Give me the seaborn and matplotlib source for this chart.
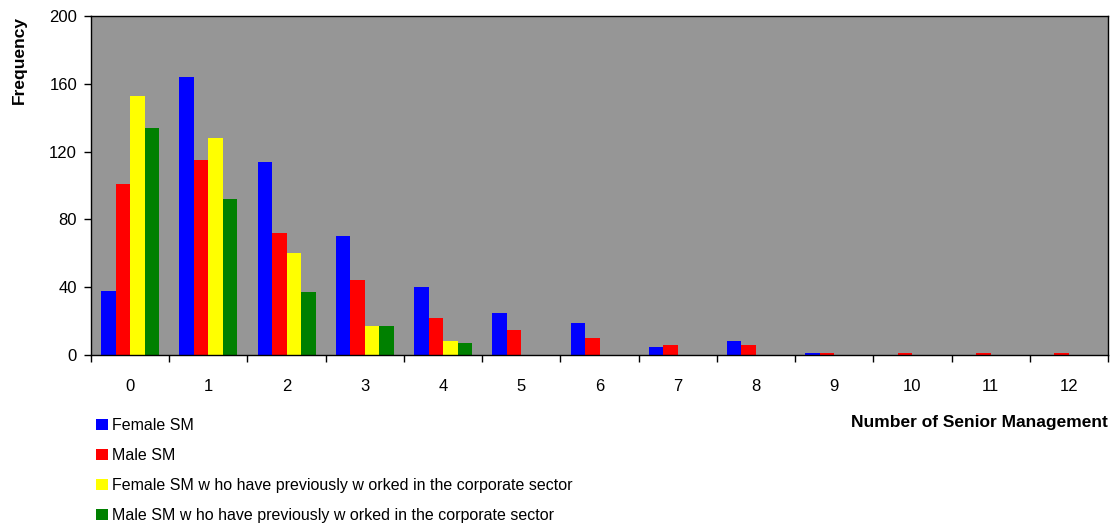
import pandas as pd
import seaborn as sns
import matplotlib.pyplot as plt
from matplotlib.ticker import FixedLocator

# number of senior management (categories)
n_sm = ["0", "1", "2", "3", "4", "5", "6", "7", "8", "9", "10", "11", "12"]

# frequencies
female_sm = [38, 164, 114, 70, 40, 25, 19, 5, 8, 1, 0, 0, 0]
male_sm = [101, 115, 72, 44, 22, 15, 10, 6, 6, 1, 1, 1, 1]
female_corp = [153, 128, 60, 17, 8, 0, 0, 0, 0, 0, 0, 0, 0]
male_corp = [134, 92, 37, 17, 7, 0, 0, 0, 0, 0, 0, 0, 0]

series_names = [
    "Female SM",
    "Male SM",
    "Female SM w ho have previously w orked in the corporate sector",
    "Male SM w ho have previously w orked in the corporate sector",
]
colors = ["#0000FF", "#FF0000", "#FFFF00", "#008000"]

rows = []
for name, vals in zip(series_names, [female_sm, male_sm, female_corp, male_corp]):
    for cat, v in zip(n_sm, vals):
        rows.append({"n": cat, "freq": v, "series": name})
df = pd.DataFrame(rows)

sns.set_style("white")
plt.rcParams["font.family"] = ["Liberation Sans", "DejaVu Sans"]

fig = plt.figure(figsize=(11.12, 5.25), dpi=100)
ax = fig.add_axes([91 / 1112, 1 - 355 / 525, 1017 / 1112, 339 / 525])

sns.barplot(data=df, x="n", y="freq", hue="series", order=n_sm,
            hue_order=series_names, palette=colors, saturation=1,
            width=0.74, dodge=True, ax=ax)
for p in ax.patches:
    p.set_edgecolor("none")

ax.set_facecolor("#969696")
ax.set_xlim(-0.5, 12.5)
ax.set_ylim(0, 200)
ax.set_yticks([0, 40, 80, 120, 160, 200])

# category labels between tick marks, ticks on category boundaries
ax.tick_params(axis="x", which="major", length=0, pad=17, labelsize=12,
               labelcolor="black")
ax.xaxis.set_minor_locator(FixedLocator([i - 0.5 for i in range(14)]))
ax.tick_params(axis="x", which="minor", length=5, width=1, direction="out",
               color="black", bottom=True)
ax.tick_params(axis="y", length=5, width=1, direction="out", color="black",
               left=True, pad=5, labelsize=12, labelcolor="black")

for s in ax.spines.values():
    s.set_color("black")
    s.set_linewidth(1)

ax.set_xlabel("")
ax.set_ylabel("Frequency", fontweight="bold", fontsize=12.5, color="black")
ax.yaxis.set_label_coords(-0.063, 0.87)

fig.text(1108 / 1112, 1 - 422 / 525, "Number of Senior Management",
         ha="right", va="center", fontweight="bold", fontsize=12.5,
         color="black")

handles, labels = ax.get_legend_handles_labels()
ax.get_legend().remove()
leg = fig.legend(handles, labels, loc="upper left",
                 bbox_to_anchor=(90 / 1112, 1 - 412 / 525), frameon=False,
                 handlelength=0.7, handleheight=0.7, handletextpad=0.3,
                 labelspacing=0.93, fontsize=11.5, borderaxespad=0)
for t in leg.get_texts():
    t.set_color("black")

fig.savefig("out.png", dpi=100)
